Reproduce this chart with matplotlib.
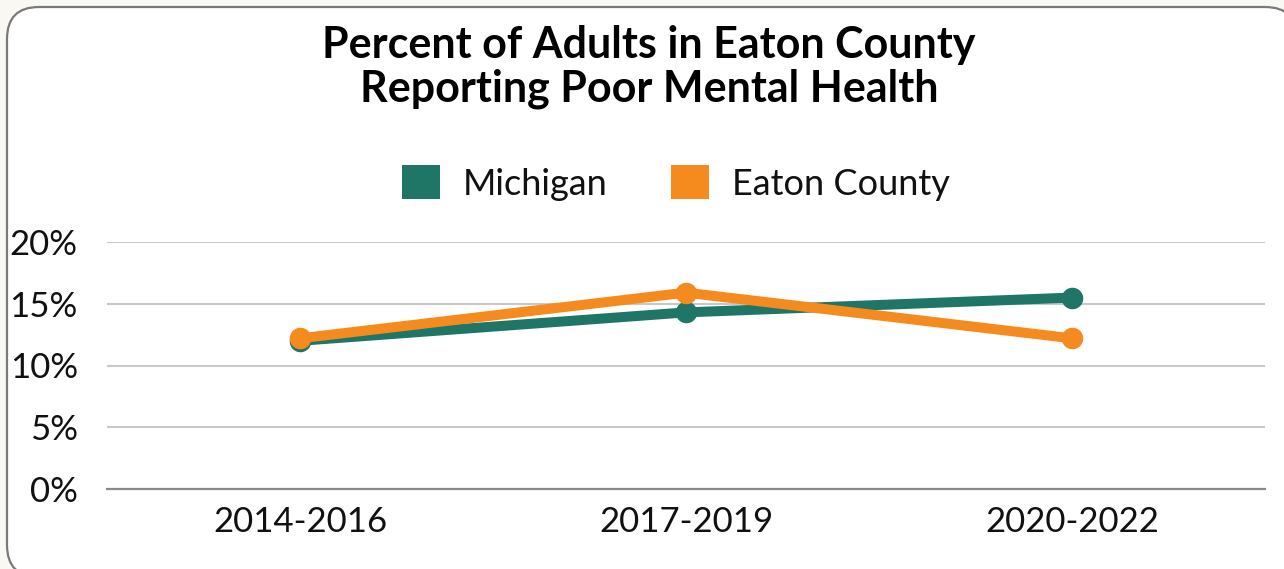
import matplotlib.pyplot as plt
from matplotlib.patches import FancyBboxPatch, Patch

plt.rcParams["font.family"] = ["Lato", "DejaVu Sans"]

periods = ["2014-2016", "2017-2019", "2020-2022"]
michigan = [12.0, 14.3, 15.5]
eaton = [12.2, 15.9, 12.2]
y_ticks = [0, 5, 10, 15, 20]

GREEN = "#1f7566"
ORANGE = "#f58b1f"

fig = plt.figure(figsize=(12.84, 5.69), dpi=100, facecolor="#f9f8f3")

# rounded card behind the chart
card = FancyBboxPatch((7, -8), 1290, 570, boxstyle="round,pad=0,rounding_size=32",
                      transform=None, facecolor="white", edgecolor="#7a7a7a",
                      linewidth=1.6, zorder=-5)
fig.patches.append(card)

ax = fig.add_axes([107 / 1284, 80 / 569, 1158 / 1284, 247 / 569])
ax.set_facecolor("none")
ax.set_zorder(2)

x = [i + 0.5 for i in range(len(periods))]
ax.plot(x, michigan, color=GREEN, lw=7.2, marker="o", ms=14.5,
        solid_capstyle="round", zorder=3)
ax.plot(x, eaton, color=ORANGE, lw=7.2, marker="o", ms=14.5,
        solid_capstyle="round", zorder=4)

ax.set_xlim(0, 3)
ax.set_ylim(0, 20)
ax.set_xticks(x)
ax.set_xticklabels(periods, fontsize=25, color="#111111")
ax.set_yticks(y_ticks)
ax.set_yticklabels([f"{v}%" for v in y_ticks], fontsize=25, color="#111111")
ax.tick_params(axis="both", length=0)
ax.tick_params(axis="y", pad=21)
ax.tick_params(axis="x", pad=12)

for v in y_ticks[1:]:
    ax.axhline(v, color="#c8c8c8", lw=1.5, zorder=1)
for s in ["top", "right", "left"]:
    ax.spines[s].set_visible(False)
ax.spines["bottom"].set_color("#8a8a8a")
ax.spines["bottom"].set_linewidth(1.6)

fig.text(649 / 1284, 1 - 67 / 569, "Percent of Adults in Eaton County\nReporting Poor Mental Health",
         ha="center", va="center", fontsize=31, fontweight="bold", linespacing=1.1)

handles = [Patch(facecolor=GREEN, label="Michigan"),
           Patch(facecolor=ORANGE, label="Eaton County")]
fig.legend(handles=handles, loc="center", bbox_to_anchor=(676 / 1284, 1 - 183 / 569),
           ncol=2, frameon=False, fontsize=26, handlelength=1.05, handleheight=1.05,
           handletextpad=0.65, columnspacing=1.75, labelcolor="#111111")

fig.savefig("out.png", dpi=100, facecolor=fig.get_facecolor())
